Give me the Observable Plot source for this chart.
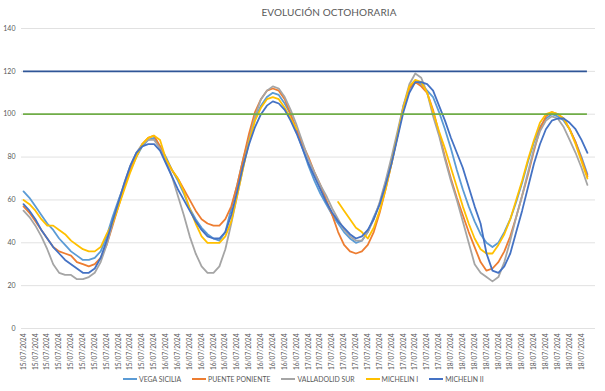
<!DOCTYPE html>
<html>
<head>
<meta charset="utf-8">
<script src="https://cdn.jsdelivr.net/npm/d3@7"></script>
<script src="https://cdn.jsdelivr.net/npm/@observablehq/plot@0.6"></script>
<style>
  html, body { margin: 0; padding: 0; background: #fff; }
  #wrap { position: relative; width: 605px; height: 391px; font-family: Lato, "Open Sans", sans-serif; color: #595959; }
  #title { position: absolute; top: 6px; left: 0; width: 658px; text-align: center; font-size: 10px; letter-spacing: 0.1px; }
  #legend { position: absolute; top: 375px; left: 123px; display: flex; align-items: center; font-size: 6.9px; white-space: nowrap; }
  .item { display: flex; align-items: center; margin-right: 11px; }
  .sw { display: inline-block; width: 14px; height: 2px; margin-right: 2px; }
  #chart { position: absolute; top: 0; left: 0; }
</style>
</head>
<body>
<div id="wrap">
  <div id="chart"></div>
  <div id="title">EVOLUCIÓN OCTOHORARIA</div>
  <div id="legend"></div>
</div>
<script>
// Days shown on the category axis (hourly data, 24 categories per day)
const days = ["15/07/2024", "16/07/2024", "17/07/2024", "18/07/2024"];
const yTicks = [0, 20, 40, 60, 80, 100, 120, 140];

const seriesNames = ["VEGA SICILIA", "PUENTE PONIENTE", "VALLADOLID SUR", "MICHELIN I", "MICHELIN II"];
const seriesColors = ["#5B9BD5", "#ED7D31", "#A5A5A5", "#FFC000", "#4472C4"];

const vegaSicilia = [
  64, 61, 57, 53, 49, 46, 42, 39, 36, 34,
  32, 32, 33, 36, 43, 52, 60, 67, 74, 80,
  85, 88, 89, 85, 80, 74, 69, 63, 56, 51,
  47, 44, 42, 41, 45, 56, 67, 79, 89, 98,
  104, 108, 110, 109, 105, 100, 92, 84, 76, 69,
  63, 58, 53, 49, 45, 42, 40, 41, 45, 52,
  58, 68, 78, 90, 104, 112, 115, 114, 111, 108,
  101, 93, 84, 74, 65, 57, 50, 44, 40, 38,
  40, 45, 51, 59, 68, 78, 87, 94, 98, 100,
  99, 97, 93, 87, 80, 72
];
const puentePoniente = [
  57, 54, 50, 46, 42, 38, 36, 35, 34, 31,
  30, 29, 30, 33, 39, 48, 57, 66, 74, 81,
  86, 89, 90, 85, 79, 74, 70, 65, 60, 55,
  51, 49, 48, 48, 51, 57, 67, 79, 91, 101,
  107, 111, 112, 111, 107, 100, 93, 86, 80, 73,
  67, 60, 53, 45, 39, 36, 35, 36, 39, 45,
  54, 65, 77, 90, 103, 112, 115, 113, 110, 102,
  91, 80, 70, 61, 53, 45, 38, 31, 27, 28,
  31, 36, 43, 52, 62, 72, 83, 93, 99, 101,
  100, 98, 93, 87, 79, 71
];
const valladolidSur = [
  55, 52, 48, 43, 37, 30, 26, 25, 25, 23,
  23, 24, 26, 31, 39, 49, 59, 68, 76, 82,
  86, 88, 88, 84, 78, 71, 62, 53, 43, 35,
  29, 26, 26, 29, 37, 49, 62, 75, 88, 99,
  107, 111, 113, 112, 108, 102, 95, 87, 79, 73,
  67, 62, 56, 51, 46, 43, 41, 41, 45, 51,
  59, 69, 80, 92, 104, 114, 119, 117, 110, 99,
  90, 79, 69, 60, 50, 40, 30, 26, 24, 22,
  24, 31, 41, 52, 62, 73, 84, 92, 97, 99,
  98, 94, 88, 82, 75, 67
];
const michelinI = [
  60, 58, 55, 51, 48, 48, 46, 44, 41, 39,
  37, 36, 36, 38, 44, 49, 57, 65, 73, 80,
  86, 89, 90, 88, 79, 74, 70, 64, 56, 49,
  43, 40, 40, 40, 43, 50, 62, 75, 87, 97,
  103, 107, 108, 107, 103, 98, 93, null, null, null,
  null, null, null, 59, 55, 51, 47, 45, 42, 47,
  55, 65, 77, 90, 103, 113, 116, 115, 110, 101,
  92, 84, 75, 66, 57, 49, 42, 37, 35, 35,
  39, 44, 51, 60, 69, 79, 88, 96, 100, 101,
  100, 98, 93, 86, 78, 70
];
const michelinII = [
  58, 55, 51, 46, 42, 38, 35, 32, 30, 28,
  26, 26, 28, 33, 41, 50, 59, 68, 76, 82,
  85, 86, 86, 83, 77, 71, 65, 60, 55, 50,
  46, 43, 42, 42, 45, 53, 64, 76, 86, 94,
  100, 104, 106, 105, 102, 97, 91, 84, 77, 71,
  65, 59, 54, 50, 47, 44, 42, 43, 46, 51,
  58, 67, 77, 89, 101, 110, 115, 115, 114, 111,
  104, 97, 89, 82, 75, 66, 57, 49, 35, 27,
  26, 29, 35, 45, 55, 66, 77, 86, 93, 97,
  98, 98, 96, 93, 88, 82
];

// Threshold reference lines
const limitValues = [120, 100];
const limitColors = ["#2F5597", "#70AD47"];

const allSeries = [vegaSicilia, puentePoniente, valladolidSur, michelinI, michelinII];
const n = vegaSicilia.length;
const idx = d3.range(n);
const catLabel = i => days[Math.floor(i / 24)];
const xTicks = idx.filter(i => i % 2 === 0);

const rows = [];
allSeries.forEach((arr, s) => arr.forEach((v, i) => rows.push({i, v, s: seriesNames[s]})));

const limits = limitValues.map((v, k) => ({v, c: limitColors[k]}));

const chart = Plot.plot({
  width: 605,
  height: 391,
  marginTop: 28,
  marginBottom: 63,
  marginLeft: 21,
  marginRight: 10,
  style: {fontFamily: "Lato, 'Open Sans', sans-serif", fontSize: "7px", color: "#595959", background: "transparent"},
  x: {domain: [-0.34, n - 1 + 1.36], label: null},
  y: {domain: [0, 140], label: null},
  color: {domain: seriesNames, range: seriesColors},
  marks: [
    Plot.gridY(yTicks, {stroke: "#D9D9D9", strokeOpacity: 1, strokeWidth: 0.8}),
    Plot.axisY(yTicks, {tickSize: 0, tickPadding: 6, fontSize: 7, fill: "#595959"}),
    Plot.axisX(xTicks, {tickSize: 0, tickPadding: 5, tickRotate: -90, tickFormat: catLabel, fontSize: 6.6, fill: "#595959", anchor: "bottom"}),
    Plot.line(rows, {x: "i", y: "v", z: "s", stroke: "s", strokeWidth: 1.8, curve: "linear"}),
    Plot.ruleY(limits, {y: "v", x1: 0, x2: n - 1, stroke: "c", strokeWidth: 1.8})
  ]
});
document.getElementById("chart").appendChild(chart);

const legend = document.getElementById("legend");
seriesNames.forEach((name, k) => {
  const it = document.createElement("div");
  it.className = "item";
  const sw = document.createElement("span");
  sw.className = "sw";
  sw.style.background = seriesColors[k];
  it.appendChild(sw);
  const t = document.createElement("span");
  t.textContent = name;
  it.appendChild(t);
  legend.appendChild(it);
});
</script>
</body>
</html>
